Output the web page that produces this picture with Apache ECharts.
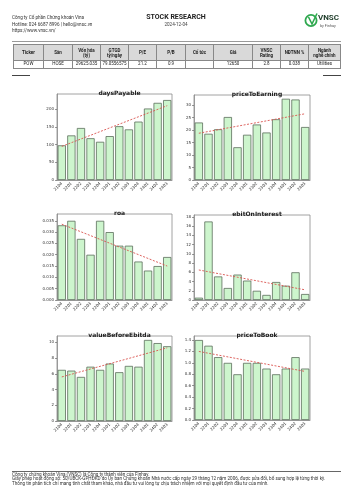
<!DOCTYPE html>
<html>
<head>
<meta charset="utf-8">
<script src="https://cdn.jsdelivr.net/npm/echarts@6/dist/echarts.min.js"></script>
<style>
  body { margin: 0; background: #fff; font-family: Roboto, "Noto Sans", sans-serif; }
  #page { position: relative; width: 353px; height: 500px; overflow: hidden; }
  #chart { position: absolute; left: 0; top: 0; width: 353px; height: 500px; }
  .abs { position: absolute; }
  .small { font-size: 4.6px; color: #333; line-height: 6.5px; }
  table { border-collapse: collapse; table-layout: fixed; font-size: 4.5px; color: #222; }
  td, th { border: 0.8px solid #888; text-align: center; padding: 0; overflow: hidden; white-space: nowrap; }
  th { background: #d9d9d9; height: 15px; font-weight: bold; line-height: 5px; }
  td { height: 6.5px; line-height: 6px; }
</style>
</head>
<body>
<div id="page">
  <div id="chart"></div>

  <div class="abs small" style="left:12px; top:15px;">
    Công ty Cổ phần Chứng khoán Vina<br>
    Hotline: 024 6687 8996 | hello@vnsc.vn<br>
    https://www.vnsc.vn/
  </div>
  <div class="abs" style="left:126px; top:13px; width:100px; text-align:center; font-weight:bold; font-size:7px; color:#222;">STOCK RESEARCH</div>
  <div class="abs" style="left:126px; top:22px; width:100px; text-align:center; font-size:4.6px; color:#444;">2024-12-04</div>

  <svg class="abs" style="left:304px; top:12px;" width="15" height="16" viewBox="0 0 15 16">
    <circle cx="7" cy="8.5" r="5.6" fill="none" stroke="#2fa84f" stroke-width="1.8"/>
    <path d="M4.5 5 L8 12 L13 1.5" fill="none" stroke="#2fa84f" stroke-width="1.6"/>
  </svg>
  <div class="abs" style="left:318px; top:13px; font-weight:bold; font-size:8px; color:#1f3d2a;">VNSC</div>
  <div class="abs" style="left:320px; top:23px; font-size:3.8px; color:#555;">by Finhay</div>

  <div class="abs" style="left:12px; top:41px; width:329px; height:1px; background:#999;"></div>

  <table class="abs" id="info" style="left:13px; top:44px; width:327px;">
    <colgroup>
      <col style="width:30px"><col style="width:29px"><col style="width:28px"><col style="width:28px">
      <col style="width:28px"><col style="width:29px"><col style="width:28px"><col style="width:39px">
      <col style="width:28px"><col style="width:28px"><col style="width:32px">
    </colgroup>
    <tr id="hdr"></tr>
    <tr id="row"></tr>
  </table>

  <div class="abs" style="left:12px; top:75px; width:18px; height:0.8px; background:#444;"></div>
  <div class="abs" style="left:323px; top:75px; width:18px; height:0.8px; background:#444;"></div>

  <div class="abs" style="left:12px; top:471px; width:329px; height:0.8px; background:#666;"></div>
  <div class="abs" style="left:12px; top:472.5px; font-size:4.6px; line-height:4.9px; color:#333; white-space:nowrap;">
    Công ty chứng khoán Vina (VNSC) là Công ty thành viên của Finhay.<br>
    Giấy phép hoạt động số: 50/UBCK-GPHĐKD do Ủy ban Chứng khoán Nhà nước cấp ngày 29 tháng 12 năm 2006, được sửa đổi, bổ sung hợp lệ từng thời kỳ.<br>
    Thông tin phân tích chỉ mang tính chất tham khảo, nhà đầu tư vui lòng tự chịu trách nhiệm với mọi quyết định đầu tư của mình.
  </div>
</div>

<script>
// table
const tableHeaders = ['Ticker', 'Sàn', 'Vốn hóa<br>(tỷ)', 'GTGD<br>tỷ/ngày', 'P/E', 'P/B', 'Cổ tức', 'Giá', 'VNSC<br>Rating', 'NĐTNN %', 'Ngành<br>nghề chính'];
const tableRow = ['POW', 'HOSE', '29625.035', '79.0556575', '21.2', '0.9', '', '12650', '2.8', '0.038', 'Utilities'];

document.getElementById('hdr').innerHTML = tableHeaders.map(h => `<th>${h}</th>`).join('');
document.getElementById('row').innerHTML = tableRow.map(v => `<td>${v}</td>`).join('');

// chart data
const quarters = ['2104', '2201', '2202', '2203', '2204', '2301', '2302', '2303', '2304', '2401', '2402', '2403'];

const daysPayable = [98, 126, 147, 118, 108, 124, 152, 143, 165, 202, 218, 226];
const priceToEarning = [23, 18.5, 20.3, 25.2, 13.1, 18.1, 22.2, 19, 24.3, 32.5, 32.2, 21.2];
const roa = [0.033, 0.035, 0.027, 0.020, 0.035, 0.030, 0.024, 0.024, 0.017, 0.013, 0.015, 0.019];
const ebitOnInterest = [0.5, 17, 5.1, 2.6, 5.5, 4.2, 2.0, 1.1, 3.9, 3.1, 6.0, 1.3];
const valueBeforeEbitda = [6.5, 6.4, 5.6, 6.9, 6.5, 7.3, 6.2, 7.0, 6.9, 10.3, 9.9, 9.5];
const priceToBook = [1.4, 1.3, 1.1, 1.0, 0.8, 1.0, 1.0, 0.9, 0.8, 0.9, 1.1, 0.9];

// trend line ends
const trendStart = [95, 18.7, 0.0335, 6.5, 5.6, 1.2];
const trendEnd = [210, 26.5, 0.015, 2.2, 9.3, 0.85];

const panels = [
    { name: 'daysPayable', data: daysPayable, max: 243, interval: 50, dec: 0, left: 57, top: 94, width: 115, height: 86 },
    { name: 'priceToEarning', data: priceToEarning, max: 34, interval: 5, dec: 0, left: 194, top: 95, width: 116, height: 85 },
    { name: 'roa', data: roa, max: 0.038, interval: 0.005, dec: 3, left: 57, top: 214, width: 115, height: 86 },
    { name: 'ebitOnInterest', data: ebitOnInterest, max: 18.4, interval: 2, dec: 0, left: 194, top: 215, width: 116, height: 85 },
    { name: 'valueBeforeEbitda', data: valueBeforeEbitda, max: 10.8, interval: 2, dec: 0, left: 57, top: 336, width: 115, height: 85 },
    { name: 'priceToBook', data: priceToBook, max: 1.47, interval: 0.2, dec: 1, left: 194, top: 336, width: 116, height: 84 }
];

const font = 'DejaVu Sans';

const option = {
    animation: false,
    title: panels.map(p => ({
        text: p.name,
        left: p.left + p.width / 2,
        top: p.top - 8.5,
        textAlign: 'center',
        textStyle: { fontFamily: font, fontSize: 6, fontWeight: 'bold', color: '#222' }
    })),
    grid: panels.map(p => ({
        left: p.left, top: p.top, width: p.width, height: p.height,
        show: true, borderColor: '#8a8a8a', borderWidth: 0.8, backgroundColor: '#fff'
    })),
    xAxis: panels.map((p, i) => ({
        type: 'category',
        gridIndex: i,
        data: quarters,
        axisLine: { lineStyle: { color: '#8a8a8a', width: 0.8 } },
        axisTick: { alignWithLabel: true, length: 2, lineStyle: { color: '#555', width: 0.6 } },
        axisLabel: { rotate: 45, fontFamily: font, fontSize: 4, color: '#333', margin: 3, interval: 0 }
    })),
    yAxis: panels.map((p, i) => ({
        type: 'value',
        gridIndex: i,
        min: 0,
        max: p.max,
        interval: p.interval,
        splitLine: { show: false },
        axisLine: { show: true, lineStyle: { color: '#8a8a8a', width: 0.8 } },
        axisTick: { show: true, length: 2, lineStyle: { color: '#555', width: 0.6 } },
        axisLabel: {
            fontFamily: font, fontSize: 4, color: '#333', margin: 3, showMaxLabel: false,
            formatter: v => v.toFixed(p.dec)
        }
    })),
    series: panels.map((p, i) => ({
        type: 'bar',
        xAxisIndex: i,
        yAxisIndex: i,
        data: p.data,
        barCategoryGap: '14%',
        itemStyle: { color: '#cdf5cd', borderColor: '#5c6e5c', borderWidth: 0.8 },
        markLine: {
            symbol: 'none',
            silent: true,
            label: { show: false },
            lineStyle: { color: '#d9534f', type: [2, 1.5], width: 0.9 },
            data: [[{ coord: [quarters[0], trendStart[i]] }, { coord: [quarters[quarters.length - 1], trendEnd[i]] }]]
        }
    }))
};

echarts.init(document.getElementById('chart')).setOption(option);
</script>
</body>
</html>
